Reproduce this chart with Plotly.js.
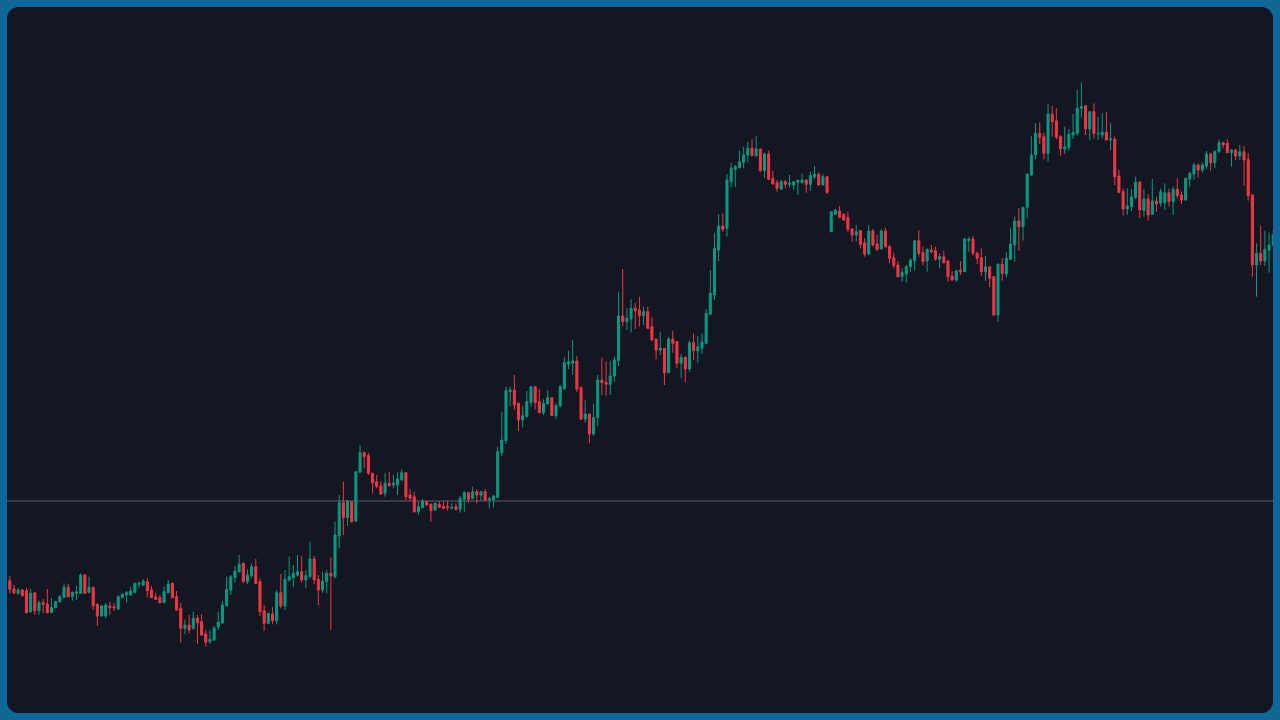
<!DOCTYPE html>
<html>
<head>
<meta charset="utf-8">
<script src="https://cdn.plot.ly/plotly-3.0.1.min.js"></script>
<style>
html,body{margin:0;padding:0;width:1280px;height:720px;overflow:hidden;background:#0f6797;}
#frame{position:absolute;left:7px;top:7px;width:1266px;height:706px;border-radius:12px;overflow:hidden;background:#131722;}
#chart{width:1266px;height:706px;}
</style>
</head>
<body>
<div id="frame"><div id="chart"></div></div>
<script>
const openP = [419.3,411,406.7,410,409.3,388.3,407,389.3,397.3,396,387.3,392.3,398.3,402.7,412.7,403.3,406.7,406.7,425,407.7,
412.7,395.7,384,384,394,393.3,391,402.3,405,405,407.7,415.7,415,418.3,410,403.3,402.3,397.3,407.3,416.7,
403.3,391.7,371.7,375,371.7,381.7,378.3,366,358.3,360,373,377,394.3,410,422.3,428.3,436.7,418.3,424.3,433.3,
418.3,389.3,376.7,386,379.3,407.3,394,420,422.3,425,428.3,420,423.3,441,420.7,410,418.3,426.7,423.3,464,
497.3,482.3,498.3,479,527.7,547.3,544.3,526.7,518.3,514.3,506.7,516.7,515,515,520,527.3,505,503.3,488.3,492.3,
498.3,495.7,490,495.7,493.3,493.3,491.7,493.3,490.7,500.7,507.3,501.7,508.3,505,508.3,500,500,502.7,547.3,559.3,
608.3,610,596.7,580,583.3,597.3,613.3,598.3,587.3,596,602.3,584.3,594,611.7,636,636.7,639,612.3,580.7,586,
566,582.3,620,617.7,615.7,624,639.3,684,678.3,681,691.7,690,684.3,688.3,673.3,660.7,650,651.7,627.3,661,
658.3,636.7,642.7,631,657.3,649.3,651.7,656.7,685.7,705,750,774,771.7,818.3,830.7,832.3,837.7,845,851.7,844.3,
851,829.3,846,821.7,817.3,811,818.3,815.7,815,817.7,817.3,820,815.7,823.3,825.7,815,823.3,768.3,785.7,789,
785.7,782.7,771,765,769.3,757.3,746,769,756,751,769,753.3,742.3,735,723.3,726,733.3,739.3,759.3,747.3,
739,750,749.3,740.7,743.3,739,724,720,730,728.3,759.3,761,746.7,742.3,728.3,733.3,723.3,685,735.7,726,
740.7,755,779,773.3,792.7,825,845,866.7,863.3,846.7,886,879,863.3,851,852.3,865,866.7,891.7,894.3,871,
888.3,866,865,867.7,860,861,824,808.3,791,793.3,802.7,817.7,789.3,801,785.7,799,796.7,797.3,807.3,798.3,
810.7,805,800,820.7,826,835,830,834,846,837.3,848.3,857.3,856.7,847.3,850,844,848.3,840.7,805,735,
746.7,739,750,755];
const highP = [424.3,415,412,411,412,411,408,399.3,401,411,402,399.3,405,416.7,416,408.3,414,426.7,426,423.3,
413.3,396.7,395,397,398.3,397.3,405,407.3,409,413.3,417.3,418.3,421,422,414,407.3,405,413.3,420,417.3,
409,397.3,380.7,385,388.3,385,386,370,370,374,388,399,423.3,425,434,445,437.3,430.7,436.7,441,
421.7,395,387.3,392.7,410,426,430,443.3,435,445,444,430,458.3,444,425,428.3,430,442.7,478.3,505,
518.3,500,499,529,555,548.3,547.3,527.3,525,519,527.3,528.3,525,527.7,530.7,527.7,511,508.3,498.3,501,
499,496.7,497.3,499,498.3,499,496.7,496.7,504,509,508.3,513.3,510.7,509.3,511,503.3,505,553.3,588.3,613.3,
613.3,625,597.3,594,609,614,614,610.7,600.7,610,602.7,596.7,615,642.7,649.3,660,644,614,600,586.7,
596,625,642.3,638.3,639.3,643.3,708.3,731,691.7,700.7,697.3,703.3,693.3,693.3,682.7,661.7,668.3,651.7,663.3,669.3,
659,646,643.3,659.3,666.7,664,666.7,691,730,767.3,786,786.7,826,837.3,835,849.3,853.3,858.3,860.7,864,
851.7,847.3,849.3,829,820,820,820,825,818.3,820,826.7,820.7,828.3,834,827.7,825.7,824.3,788.3,791,794,
786.7,788.3,771.7,775,770,761.7,775,771,765,770.7,772.3,755,747.3,739,731.7,735,741.7,760,770,753.3,
751.7,755,753.3,746.7,749.3,740,729,730,739,762.3,763.3,764.3,748.3,751.7,744,733.3,724,736.7,741.7,747.7,
771.7,783.3,791.7,793.3,826.7,864,876.7,877.7,867.3,896,894,891.7,865,873.3,871,886,910,917.7,895,888.3,
896.7,883.3,886.7,888.3,876.7,863.3,830,811.7,811.7,811,823.3,819,811,805.7,821,803.3,811.7,816.7,811.7,813.3,
821.7,808.3,822.3,828.3,837.3,836.7,837.3,849,847.3,850,860.7,858.3,860.7,851,851,855,854,846.7,805.7,756.7,
774,769.3,767.3,770];
const lowP = [406.7,406,405,403.3,386.7,387.3,385,385,387,386.7,386.7,391.7,397.3,401.7,402.7,399.3,400,406.7,406,406.7,
390,374,383.3,382,385,389,390,401.7,397.3,404.3,406.7,412.3,414,402.7,402.3,400,396.7,396.7,406.7,401.7,
389.3,357.3,366,366.7,370,356,364,353.3,356,359,370,376,393.3,405,417.3,427.3,417.3,415.7,421.7,416,
384,369,376,375.7,375.7,391.7,390,418.3,412.7,423.3,417.3,411.7,421.7,416,395,407.3,406.7,370,421.7,451.7,
465,474,477.3,478.3,527.3,531.7,525,506.7,511.7,505,503.3,513.3,511.7,505,519.3,500,499,487.3,485,491.7,
494.3,478.3,489.3,492.3,490.7,489.3,490.7,489.3,487.3,488.3,497.3,500.7,496.7,499.3,499,491.7,492.3,501.7,544,556,
594,590,569,572.7,582.7,593.3,590.7,586.7,585,596,584,580.7,592.7,610,630.7,625,608.3,580,577.3,556.7,
564.3,574,605,604,605,618.3,634,674,670,667.3,671,673.3,675,671,659.3,640.7,645,615,626.7,647.3,
631.7,621.7,617.7,628.3,640,637.3,646,656,685,700,739,768.3,763.3,812.7,812.7,831.7,831.7,837.7,844,843.3,
828.3,821.7,820,815.7,808.3,810,811.7,812.7,810,805,816.7,807.3,809.3,820.7,814.3,815,806,768.3,785,781.7,
779.3,768.3,758.3,758.3,751.7,743.3,745,753.3,749,750.7,752.3,736.7,731.7,722.7,718.3,717.3,728.3,729.3,743.3,735,
728.3,746.7,739.3,731.7,736.7,718.3,719.3,718.3,725,728.3,748.3,744.3,736,724,719,712.7,684.3,678.3,719.3,722.7,
740,738.3,749,759.3,781.7,824,840.7,856,840.7,838.3,863.3,860.7,844.3,846,849,861,864.3,882.3,865,860,
861.7,860,861.7,860,850,815,806.7,784.3,785,789,801,781.7,783.3,779.3,785,788.3,793.3,790,793.3,785,
801.7,796,799.3,812.7,820,822.3,827.3,830.7,829.3,831.7,847.3,851.7,846.7,833.3,840,840,814,799.3,723.3,703.3,
735,734,727.3,753.3];
const closeP = [410.7,407,410,404.3,387.3,406.7,389.3,397.3,395.7,387.3,392.3,398.3,403.3,412.7,403.3,407.7,408,425,406.7,412.7,
394.3,384,394,395,392.3,392.3,403.3,405.7,407.3,409,416.7,416.7,419,409.3,402.3,400.7,397.3,408.3,416,402.3,
390,371.7,375,370,381.7,377.3,365,357.7,360.7,372,378,395,410.7,423.3,429,435.7,418.3,425,433.3,416.7,
388.3,376.7,386.7,379.3,407.3,394,420.7,423.3,426.7,428.3,420,424.3,441,420,410,419,426.7,424,465,497.3,
482.3,499,478.3,528.3,547.3,543.3,526.7,517.3,513.3,506,516.7,514.3,516.7,521,527.3,503.3,501.7,488.3,493.3,499,
495,489.3,496.7,492.7,491.7,492.3,492.7,490.7,501.7,507.3,500.7,508.3,505,508.3,500,501.3,504,548.3,560,609.3,
610,595,580,584.3,598.3,613.3,597.3,587.3,596.7,602.3,584.3,594.3,613.3,637.3,638.3,639,611,580.7,586,566,
582.3,620,617.3,615.7,624,640,684,678.3,681.7,691.7,689.3,684.3,688.3,671.7,660,650,651.7,627.3,661,656.7,
636.7,642.7,631,657.3,649.3,653.3,658,686.7,706.7,751.7,774,770.7,820,831.7,833.3,838.3,845,851.7,844.3,851,
829.3,846,820.7,816,811.7,818.3,815.7,816.7,818.3,820,820,815.7,824.3,825.7,815,823.3,807.7,788.3,790,782.7,
780,770.7,765,768.3,755.7,746,769,755,750.7,769,753.3,741.7,734.3,723.3,727.3,733.3,740,759.3,746.7,738.3,
750.7,748.3,740.7,743.3,737.3,723.3,720,729.3,728.3,761,761,746.7,741.7,728.3,733.3,721.7,685,735.7,726.7,741.7,
756,779,773.3,792.7,825.7,845,866.7,862.7,846.7,886,878.3,862.7,851,853.3,865.7,867.7,891.7,893.3,871,888.3,
866.7,866.7,867.7,860,861,823.3,807.7,791,794,803.3,817.7,790,801,785,799,796,808.3,807.3,798.3,810.7,
804.3,800,821.7,826.7,835,830,835,846,837.3,848.3,857.3,855,847.3,850,844,848.3,840,804.3,735,746.7,
739,750.7,755,765];
const refLevel = 499;

const idx = openP.map((_, i) => i);

const trace = {
  type: 'candlestick',
  x: idx,
  open: openP,
  high: highP,
  low: lowP,
  close: closeP,
  increasing: {line: {color: '#089981', width: 1}, fillcolor: '#089981'},
  decreasing: {line: {color: '#f23645', width: 1}, fillcolor: '#f23645'},
  whiskerwidth: 0,
  hoverinfo: 'skip'
};

const layout = {
  width: 1266,
  height: 706,
  margin: {l: 0, r: 0, t: 0, b: 0, pad: 0},
  paper_bgcolor: '#131722',
  plot_bgcolor: '#131722',
  showlegend: false,
  xaxis: {range: [-0.67, 302.95], visible: false, showgrid: false, zeroline: false, rangeslider: {visible: false}, fixedrange: true},
  yaxis: {range: [287, 993], visible: false, showgrid: false, zeroline: false, fixedrange: true},
  shapes: [{type: 'line', xref: 'paper', x0: 0, x1: 1, yref: 'y', y0: refLevel, y1: refLevel, line: {color: '#5d606b', width: 1}, layer: 'below'}]
};

Plotly.newPlot('chart', [trace], layout, {displayModeBar: false, staticPlot: true});
</script>
</body>
</html>
